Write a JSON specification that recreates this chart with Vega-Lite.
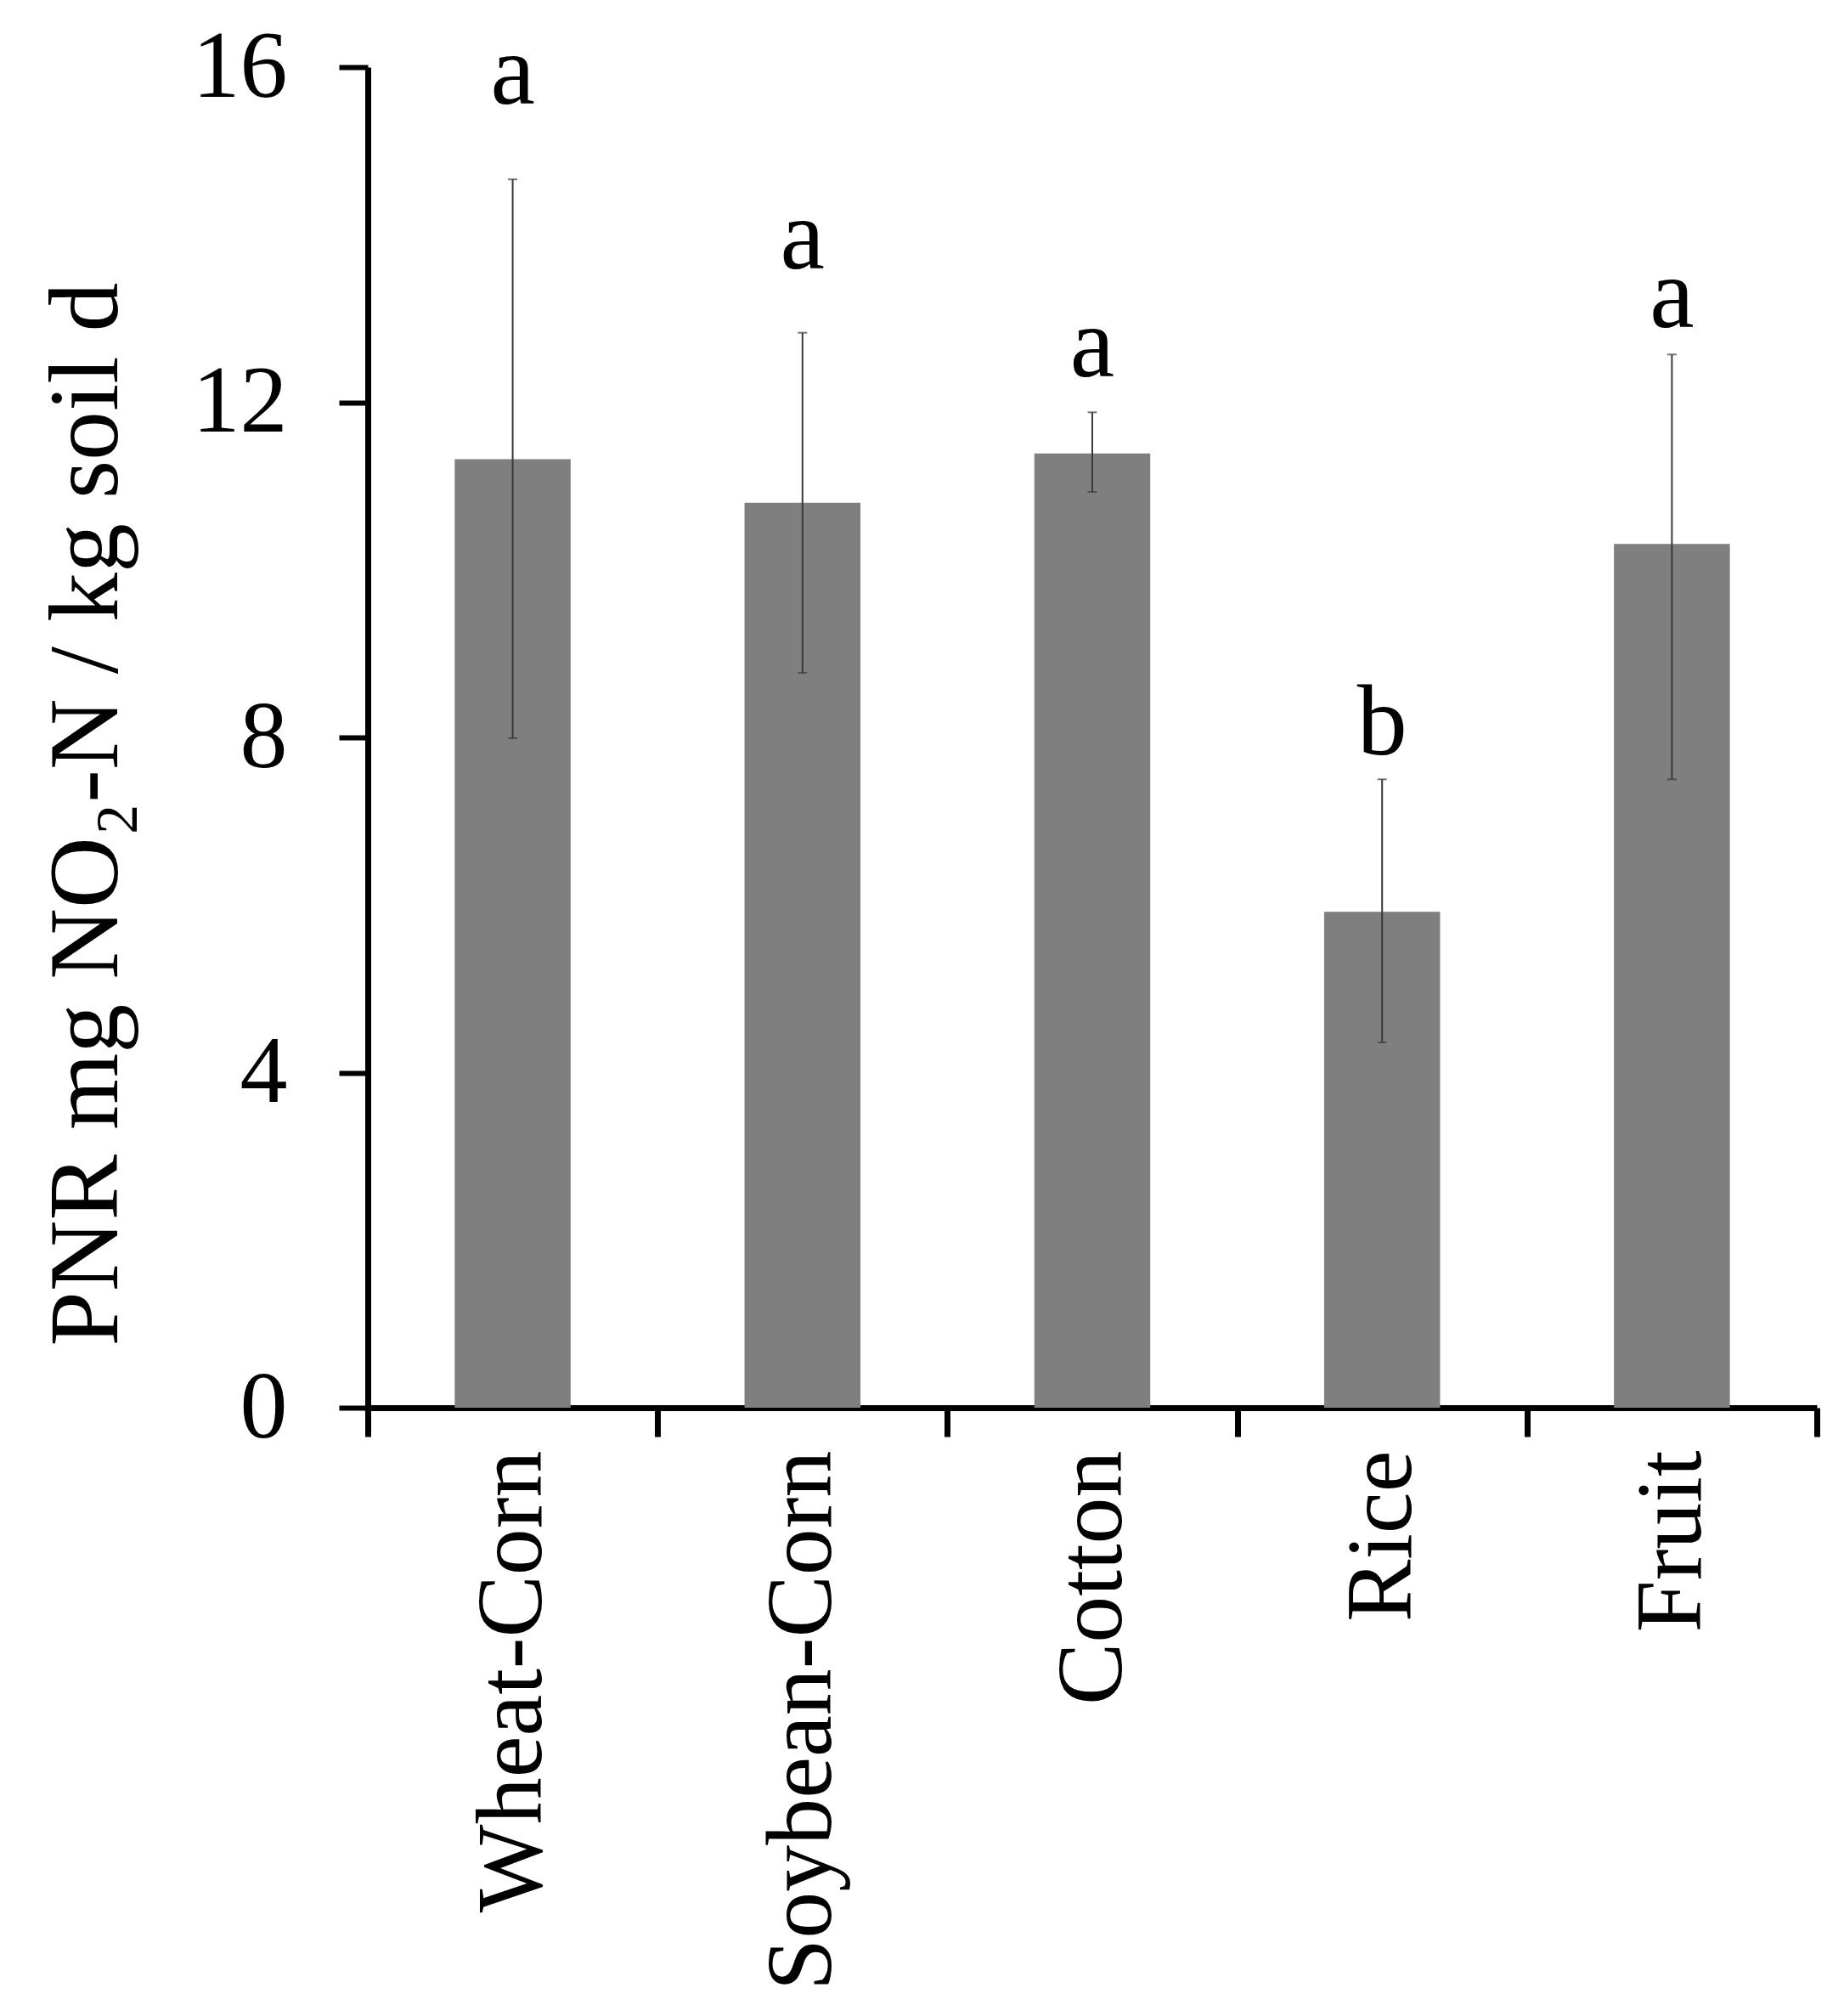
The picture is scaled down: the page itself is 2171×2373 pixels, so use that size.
{
  "$schema": "https://vega.github.io/schema/vega-lite/v6.json",
  "autosize": "none",
  "padding": {"left": 433, "top": 79, "right": 32, "bottom": 716},
  "width": 1706,
  "height": 1578,
  "background": "white",
  "config": {"view": {"stroke": null}, "font": "Liberation Serif"},
  "data": {
    "values": [
      {"system": "Wheat-Corn", "mean": 11.32, "lo": 7.99, "hi": 14.66, "letter": "a", "letter_y": 15.56},
      {"system": "Soybean-Corn", "mean": 10.8, "lo": 8.77, "hi": 12.83, "letter": "a", "letter_y": 13.6},
      {"system": "Cotton", "mean": 11.39, "lo": 10.93, "hi": 11.88, "letter": "a", "letter_y": 12.31},
      {"system": "Rice", "mean": 5.92, "lo": 4.36, "hi": 7.5, "letter": "b", "letter_y": 7.8},
      {"system": "Fruit", "mean": 10.31, "lo": 7.5, "hi": 12.57, "letter": "a", "letter_y": 12.9}
    ]
  },
  "encoding": {
    "x": {
      "field": "system",
      "type": "nominal",
      "sort": null,
      "scale": {"paddingInner": 0, "paddingOuter": 0},
      "axis": {
        "title": null,
        "tickBand": "extent",
        "labelAngle": -90,
        "labelAlign": "right",
        "labelBaseline": "middle",
        "labelFontSize": 110,
        "labelColor": "black",
        "labelPadding": 16,
        "labelLimit": 0,
        "tickSize": 34,
        "tickWidth": 7,
        "tickColor": "black",
        "domainColor": "black",
        "domainWidth": 7,
        "labelFont": "Liberation Serif"
      }
    }
  },
  "layer": [
    {
      "mark": {"type": "bar", "color": "#7f7f7f", "width": {"band": 0.4}},
      "encoding": {
        "y": {
          "field": "mean",
          "type": "quantitative",
          "scale": {"domain": [0, 16], "nice": false},
          "axis": {
            "title": "PNR mg NO₂-N / kg soil d",
            "titleFontSize": 116,
            "titleFontWeight": "normal",
            "titleColor": "black",
            "titleFont": "Liberation Serif",
            "titleAngle": -90,
            "titleAlign": "center",
            "titleBaseline": "alphabetic",
            "titleX": -296,
            "titleY": 879,
            "values": [0, 4, 8, 12, 16],
            "format": "d",
            "grid": false,
            "labelFontSize": 112,
            "labelColor": "black",
            "labelFont": "Liberation Serif",
            "labelPadding": 61,
            "labelLimit": 0,
            "labelBaseline": "middle",
            "tickSize": 34,
            "tickWidth": 6,
            "tickColor": "black",
            "domainColor": "black",
            "domainWidth": 7
          }
        }
      }
    },
    {
      "mark": {"type": "rule", "color": "#3a3a3a", "strokeWidth": 2},
      "encoding": {
        "y": {"field": "lo", "type": "quantitative"},
        "y2": {"field": "hi"}
      }
    },
    {
      "mark": {"type": "tick", "color": "#3a3a3a", "size": 11, "thickness": 2},
      "encoding": {"y": {"field": "lo", "type": "quantitative"}}
    },
    {
      "mark": {"type": "tick", "color": "#3a3a3a", "size": 11, "thickness": 2},
      "encoding": {"y": {"field": "hi", "type": "quantitative"}}
    },
    {
      "mark": {"type": "text", "fontSize": 118, "baseline": "alphabetic", "align": "center", "color": "black", "font": "Liberation Serif"},
      "encoding": {
        "y": {"field": "letter_y", "type": "quantitative"},
        "text": {"field": "letter"}
      }
    }
  ]
}
